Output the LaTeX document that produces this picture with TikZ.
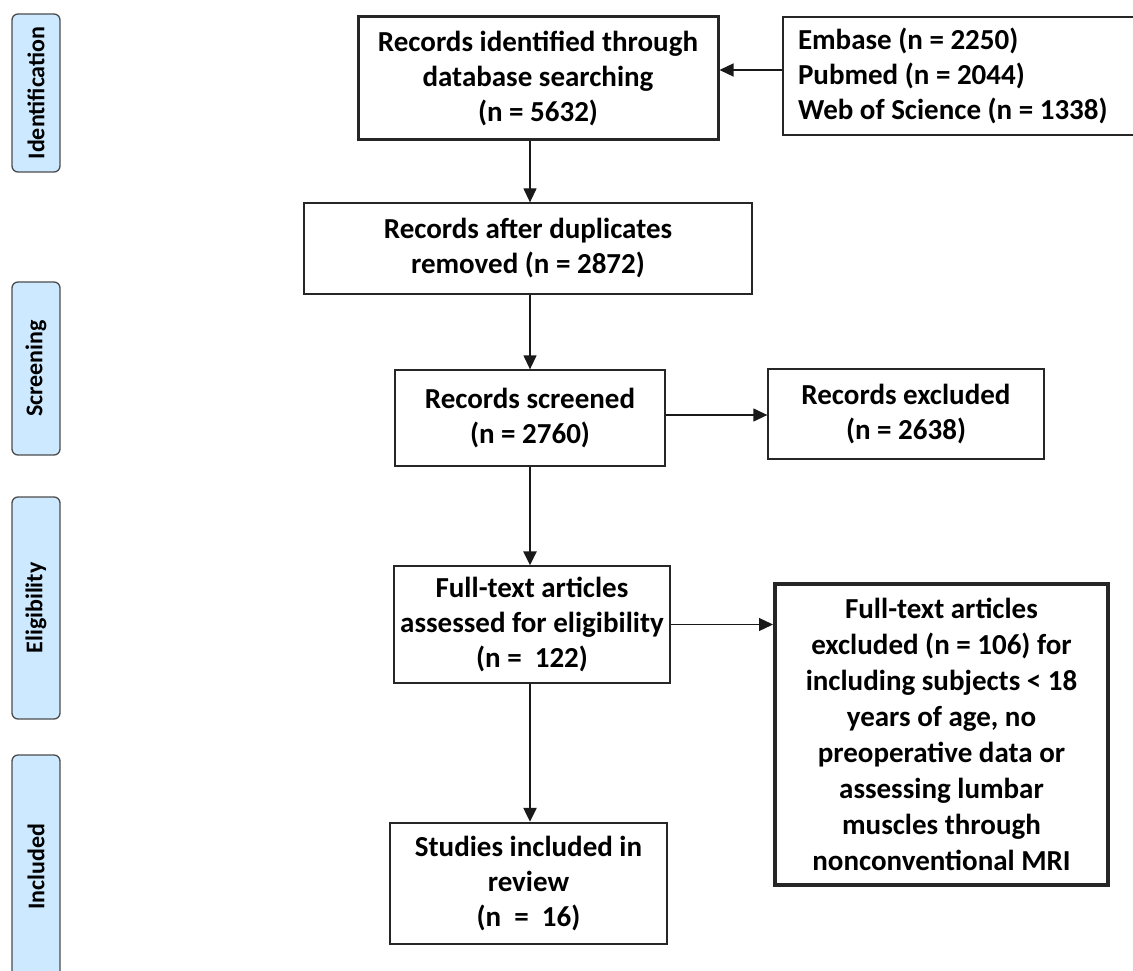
\documentclass[tikz,border=0pt]{standalone}
\usepackage{fontspec}
\setmainfont{Carlito}
\usetikzlibrary{arrows.meta,positioning}
\definecolor{phasefill}{RGB}{204,233,255}
\tikzset{
    phase/.style={draw=black!70, line width=1.3pt, fill=phasefill, rounded corners=6pt,
        rotate=90, minimum height=48pt, inner sep=0pt,
        font=\fontsize{24}{28}\selectfont\bfseries},
    flowbox/.style={draw=black!85, line width=1.3pt, align=center, inner sep=0pt,
        font=\fontsize{29}{35}\selectfont\bfseries},
    flowarrow/.style={-{Triangle[length=14pt,width=13pt]}, line width=1.3pt, black!90},
    bigarrow/.style={flowarrow, line width=2.5pt}
}
\begin{document}
\begin{tikzpicture}[x=1pt, y=-1pt]
        \clip (0,0) rectangle (1133,971);
        % phase labels on the left
        \node[phase, minimum width=158pt] (identification) at (36,93) {Identification};
        \node[phase, minimum width=173pt] (screening) at (36,368.5) {Screening};
        \node[phase, minimum width=222pt] (eligibility) at (36,608) {Eligibility};
        \node[phase, minimum width=223pt] (included) at (36,866.5) {Included};
        % main column
        \coordinate (spine) at (530,0);
        \node[flowbox, line width=3pt, minimum width=360pt, minimum height=123pt] (search) at (538,78.5)
            {Records identified through\\database searching\\(n = 5632)};
        \node[flowbox, line width=2pt, minimum width=367pt, minimum height=118pt, text width=337pt,
            inner xsep=15pt, align=flush left] (sources) at (966.5,76)
            {Embase (n = 2250)\\Pubmed (n = 2044)\\Web of Science (n = 1338)};
        \node[flowbox, minimum width=448pt, minimum height=91pt] (dedup) at (528,248.5)
            {Records after duplicates\\removed (n = 2872)};
        \node[flowbox, minimum width=270pt, minimum height=96pt] (screened) at (530,418)
            {Records screened\\(n = 2760)};
        \node[flowbox, minimum width=276pt, minimum height=90pt] (excluded) at (906,414)
            {Records excluded\\(n = 2638)};
        \node[flowbox, minimum width=276pt, minimum height=117pt] (assessed) at (532,624.5)
            {Full-text articles\\assessed for eligibility\\(n =~~122)};
        \node[flowbox, line width=4pt, minimum width=333pt, minimum height=301pt,
            font=\fontsize{29}{36}\selectfont\bfseries] (fullexcl) at (941.5,734.5)
            {Full-text articles\\excluded (n = 106) for\\including subjects < 18\\years of age, no\\preoperative data or\\assessing lumbar\\muscles through\\nonconventional MRI};
        \node[flowbox, line width=2.5pt, minimum width=277pt, minimum height=121pt] (studies) at (528.5,883.5)
            {Studies included in\\review\\(n~~=~~16)};
        % arrows
        \draw[flowarrow] ([yshift=6pt]sources.west) -- ([yshift=6pt]sources.west -| search.east);
        \draw[flowarrow] (search.south -| spine) -- (dedup.north -| spine);
        \draw[flowarrow] (dedup.south -| spine) -- (screened.north -| spine);
        \draw[flowarrow] ([yshift=3pt]screened.east) -- ([yshift=3pt]screened.east -| excluded.west);
        \draw[bigarrow] (screened.south -| spine) -- (assessed.north -| spine);
        \draw[flowarrow] (assessed.east) -- (assessed.east -| fullexcl.west);
        \draw[bigarrow] (assessed.south -| spine) -- (studies.north -| spine);
    \end{tikzpicture}
\end{document}
